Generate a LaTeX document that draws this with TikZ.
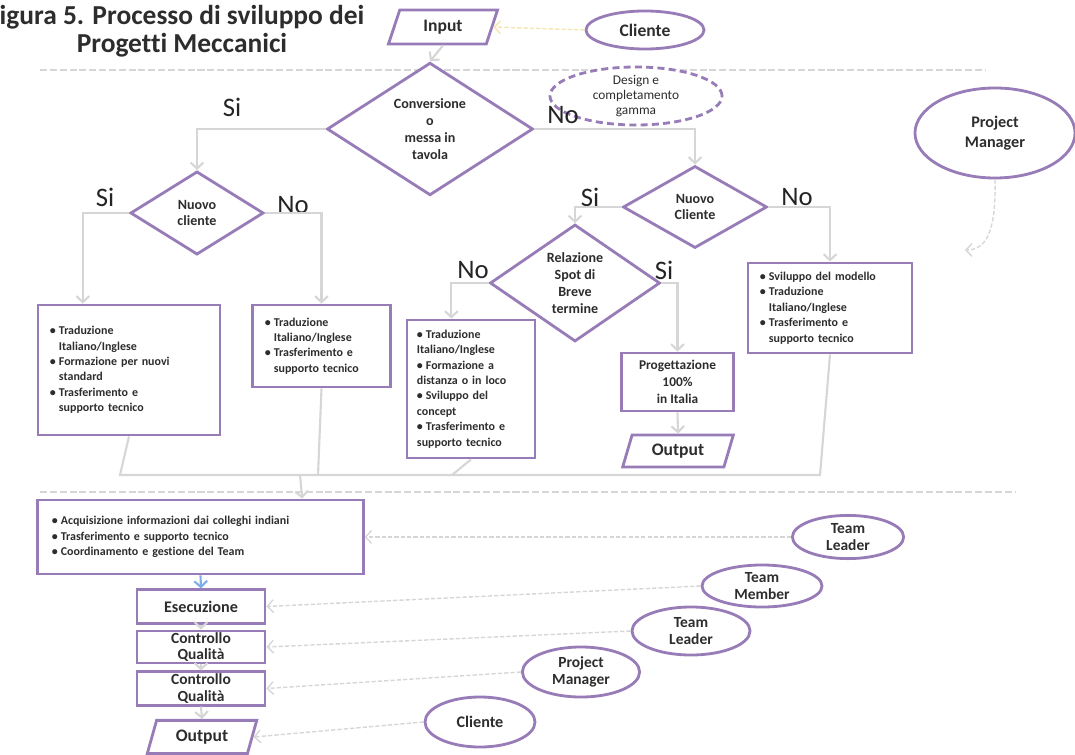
\documentclass[tikz,border=0pt]{standalone}
\usepackage{fontspec}
\setmainfont{Carlito}[Ligatures=NoCommon]
\usetikzlibrary{arrows.meta,positioning,shapes.geometric,calc}

\definecolor{lilac}{RGB}{152,124,184}
\definecolor{conn}{RGB}{214,214,214}
\definecolor{txt}{RGB}{45,45,45}
\definecolor{pale}{RGB}{243,230,175}
\definecolor{sky}{RGB}{125,175,232}

\newcommand{\bul}{\makebox[0.75em][l]{\textbullet}}
\newcommand{\cnt}{\hspace*{0.75em}}

\begin{document}
\begin{tikzpicture}[
    x=0.025cm, y=-0.025cm,
    >={Straight Barb[length=1.5mm,width=3.2mm]},
    dec/.style={
        diamond,
        draw=lilac,
        line width=2pt,
        fill=white,
        inner sep=0pt,
        align=center,
        text=txt,
        font=\fontsize{10}{12}\selectfont\bfseries
    },
    task/.style={
        rectangle,
        draw=lilac,
        line width=2pt,
        fill=white,
        inner xsep=0.3cm,
        align=left,
        text=txt,
        font=\fontsize{8.5}{11}\selectfont\bfseries
    },
    io/.style={
        trapezium,
        trapezium left angle=75,
        trapezium right angle=105,
        trapezium stretches=true,
        draw=lilac,
        line width=2pt,
        fill=white,
        text=txt,
        font=\fontsize{12.5}{14}\selectfont\bfseries
    },
    actor/.style={
        ellipse,
        draw=lilac,
        line width=2pt,
        fill=white,
        inner sep=0pt,
        align=center,
        text=txt,
        font=\fontsize{11}{12.5}\selectfont\bfseries
    },
    answer/.style={text=txt!80!black, font=\fontsize{19}{20}\selectfont},
    flow/.style={->, draw=conn, line width=1.5pt},
    link/.style={draw=conn, line width=1.5pt},
    feed/.style={->, draw=conn, line width=1pt, dash pattern=on 3pt off 1.5pt},
    sep/.style={draw=conn, line width=1.2pt, dash pattern=on 5pt off 2pt}
]
\useasboundingbox (0,0) rectangle (1075,754);

% Title
\node[align=center, inner sep=0pt, text=txt, font=\fontsize{19.5}{20}\selectfont\bfseries] (title) at (182,31) {igura 5. Processo di sviluppo dei\\Progetti Meccanici};

% --- Top: input and first decision ---
\node[io, minimum width=2.73cm, minimum height=0.85cm] (input) at (443,27) {Input};
\node[actor, minimum width=2.95cm, minimum height=0.95cm, font=\fontsize{12.5}{14}\selectfont\bfseries] (cl) at (645,30) {Cliente};

\draw[sep] (40,70) -- (985,70);

\node[dec, minimum width=5.15cm, minimum height=2.6cm] (conv) at (430,129) {Conversione\\o\\messa in\\tavola};
\node[ellipse, draw=lilac, line width=2pt, dash pattern=on 5pt off 3pt, fill=white, minimum width=4.3cm, minimum height=1.35cm, inner sep=0pt, align=center, text=txt, font=\fontsize{9.5}{10.5}\selectfont] (gamma) at (636,96) {Design e\\completamento\\gamma};
\node[actor, minimum width=4cm, minimum height=2.25cm, font=\fontsize{11.5}{14}\selectfont\bfseries] (pm) at (995,133) {Project\\Manager};
\coordinate (pmend) at (965,250);

\node[answer] (si1) at (232,107) {Si};
\node[answer] (no1) at (563,115) {No};

% --- Second level decisions ---
\node[dec, minimum width=3.33cm, minimum height=2.08cm] (nc1) at (197,213) {Nuovo\\cliente};
\node[dec, minimum width=3.6cm, minimum height=2.05cm] (nc2) at (695,207) {Nuovo\\Cliente};
\node[dec, minimum width=4.25cm, minimum height=2.68cm] (rs) at (575,283) {Relazione\\Spot di\\Breve\\termine};

\node[answer] (si2) at (105,197) {Si};
\node[answer] (no2) at (293,205) {No};
\node[answer] (si3) at (590,197) {Si};
\node[answer] (no3) at (797,197) {No};
\node[answer] (no4) at (473,270) {No};
\node[answer] (si4) at (664,270) {Si};

% --- Activity boxes ---
\node[task, minimum height=3.25cm, text width=3.95cm] (b1) at (129,370) {\bul Traduzione\\\cnt Italiano/Inglese\\\bul Formazione per nuovi\\\cnt standard\\\bul Trasferimento e\\\cnt supporto tecnico};
\node[task, minimum height=2.05cm, text width=2.83cm] (b2) at (321.5,346) {\bul Traduzione\\\cnt Italiano/Inglese\\\bul Trasferimento e\\\cnt supporto tecnico};
\node[task, minimum height=3.45cm, text width=2.7cm, inner xsep=0.25cm] (b3) at (471,389) {\bul Traduzione\\Italiano/Inglese\\\bul Formazione a\\distanza o in loco\\\bul Sviluppo del\\concept\\\bul Trasferimento e\\supporto tecnico};
\node[task, minimum width=2.78cm, minimum height=1.45cm, align=center, font=\fontsize{9.5}{12}\selectfont\bfseries] (b4) at (677.5,382) {Progettazione\\100\%\\in Italia};
\node[io, minimum width=2.78cm, minimum height=0.8cm] (out2) at (678,451) {Output};
\node[task, minimum height=2.25cm, text width=3.5cm] (b5) at (830,308) {\bul Sviluppo del modello\\\bul Traduzione\\\cnt Italiano/Inglese\\\bul Trasferimento e\\\cnt supporto tecnico};

% Decision branches
\draw[flow] (input.south) -- (conv.north);
\draw[flow] (conv.west) -| (nc1.north);
\draw[flow] (conv.east) -| (nc2.north);
\draw[flow] (nc1.west) -| ($(b1.north west)!0.25!(b1.north east)$);
\draw[flow] (nc1.east) -| (b2.north);
\draw[flow] (nc2.west) -| (rs.north);
\draw[flow] (nc2.east) -| (b5.north);
\draw[flow] (rs.west) -| ($(b3.north west)!0.35!(b3.north east)$);
\draw[flow] (rs.east) -| (b4.north);
\draw[flow] (b4.south) -- (out2.north);
\draw[feed, draw=pale] (cl.west) -- (input.east);
\draw[feed] (pm.south) .. controls (996,228) and (988,250) .. (pmend);

% Merge of the branches
\coordinate (m1) at (120,475);
\coordinate (m2) at (318,475);
\coordinate (m3) at (452,475);
\coordinate (m5) at (820,475);
\coordinate (mrg) at (300,475);
\draw[link] (b1.south) -- (m1) -- (m5) -- (b5.south);
\draw[link] (b2.south) -- (m2);
\draw[link] (b3.south) -- (m3);

\draw[sep] (40,492) -- (1015,492);

% --- Execution in India ---
\node[task, minimum height=1.85cm, text width=7.43cm, inner xsep=0.35cm] (b6) at (200.5,537) {\bul Acquisizione informazioni dai colleghi indiani\\\bul Trasferimento e supporto tecnico\\\bul Coordinamento e gestione del Team};
\node[task, minimum width=3.2cm, minimum height=0.83cm, align=center, font=\fontsize{11.5}{12}\selectfont\bfseries] (exe) at (201,606.5) {Esecuzione};
\node[task, minimum width=3.2cm, minimum height=0.8cm, inner ysep=0pt, align=center, font=\fontsize{11}{12}\selectfont\bfseries] (cq1) at (201,647) {Controllo\\Qualità};
\node[task, minimum width=3.2cm, minimum height=0.83cm, inner ysep=0pt, align=center, font=\fontsize{11}{12}\selectfont\bfseries] (cq2) at (201,688.5) {Controllo\\Qualità};
\node[io, minimum width=2.75cm, minimum height=0.83cm] (out3) at (202,737) {Output};

\draw[flow] (mrg) -- ($(b6.north west)!0.81!(b6.north east)$);
\draw[flow, draw=sky] (b6.south) -- (exe.north);
\draw[flow] (exe.south) -- (cq1.north);
\draw[flow] (cq1.south) -- (cq2.north);
\draw[flow] (cq2.south) -- (out3.north);

% Roles
\node[actor, minimum width=2.78cm, minimum height=1.08cm] (tl1) at (848,537) {Team\\Leader};
\node[actor, minimum width=3cm, minimum height=1.05cm] (tm) at (762,586) {Team\\Member};
\node[actor, minimum width=2.95cm, minimum height=1.2cm] (tl2) at (691,631) {Team\\Leader};
\node[actor, minimum width=2.93cm, minimum height=1.25cm] (pm2) at (581,672) {Project\\Manager};
\node[actor, minimum width=2.75cm, minimum height=1.25cm, font=\fontsize{11.5}{12.5}\selectfont\bfseries] (cl2) at (480,722) {Cliente};

\draw[feed] (tl1.west) -- (b6.east);
\draw[feed] (tm.west) -- (exe.east);
\draw[feed] (tl2.west) -- (cq1.east);
\draw[feed] (pm2.west) -- (cq2.east);
\draw[feed] (cl2.west) -- (out3.east);

\end{tikzpicture}
\end{document}
